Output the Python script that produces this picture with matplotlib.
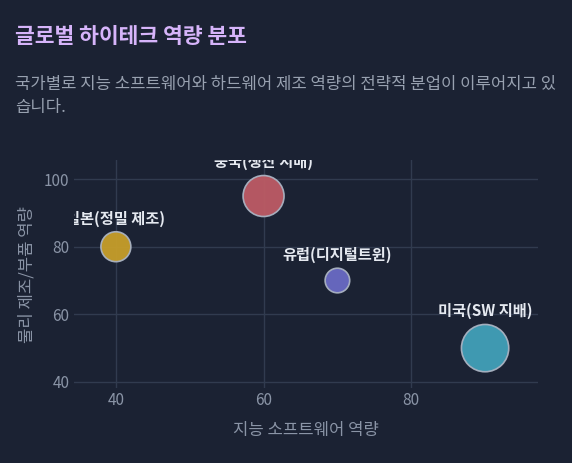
import numpy as np
import matplotlib
matplotlib.use("Agg")
import matplotlib.pyplot as plt

plt.rcParams['font.family'] = ['Noto Sans CJK KR', 'DejaVu Sans']

# ---- data ----
countries = ["일본(정밀 제조)", "중국(생산 지배)", "유럽(디지털트윈)", "미국(SW 지배)"]
software = [40, 60, 70, 90]
hardware = [80, 95, 70, 50]
bubble_size = [40, 75, 27, 100]
colors = ["#c79e2a", "#bd5b65", "#6a6ac4", "#42a0b9"]
x_ticks = [40, 60, 80]
y_ticks = [40, 60, 80, 100]

title = "글로벌 하이테크 역량 분포"
subtitle = "국가별로 지능 소프트웨어와 하드웨어 제조 역량의 전략적 분업이 이루어지고 있\n습니다."
x_label = "지능 소프트웨어 역량"
y_label = "물리 제조/부품 역량"

BG = "#1b2233"
GRID = "#313b4f"
TICK = "#8a94a6"

fig = plt.figure(figsize=(5.72, 4.63), dpi=100, facecolor=BG)
ax = fig.add_axes([0.129, 0.162, 0.812, 0.492], facecolor=BG)

k = 11.6
sizes = [v * k for v in bubble_size]
ax.scatter(software, hardware, s=sizes, c=colors, edgecolors="#aab3c2",
           linewidths=1.2, alpha=0.95, zorder=3)

for name, x, y, s in zip(countries, software, hardware, sizes):
    r_pt = np.sqrt(s) / 2
    ax.annotate(name, (x, y), xytext=(0, r_pt + 9.5), textcoords="offset points",
                ha="center", va="center", fontsize=11, fontweight="bold",
                color="#e5e9f0", clip_on=True, zorder=4)

ax.set_xlim(34.3, 97.2)
ax.set_ylim(38.2, 105.6)
ax.set_xticks(x_ticks)
ax.set_yticks(y_ticks)
ax.grid(True, color=GRID, linewidth=1)
ax.set_axisbelow(True)
for sp in ax.spines.values():
    sp.set_visible(False)
ax.tick_params(length=0, colors=TICK, labelsize=11, pad=3)

ax.set_xlabel(x_label, color=TICK, fontsize=12, labelpad=9)
ax.set_ylabel(y_label, color=TICK, fontsize=12, labelpad=6)

fig.text(0.026, 0.922, title, color="#d6b4fa", fontsize=15.5, fontweight="bold",
         ha="left", va="center")
fig.text(0.026, 0.793, subtitle, color="#98a1b0", fontsize=12, ha="left",
         va="center", linespacing=1.45)

fig.savefig("out.png", dpi=100, facecolor=BG)
